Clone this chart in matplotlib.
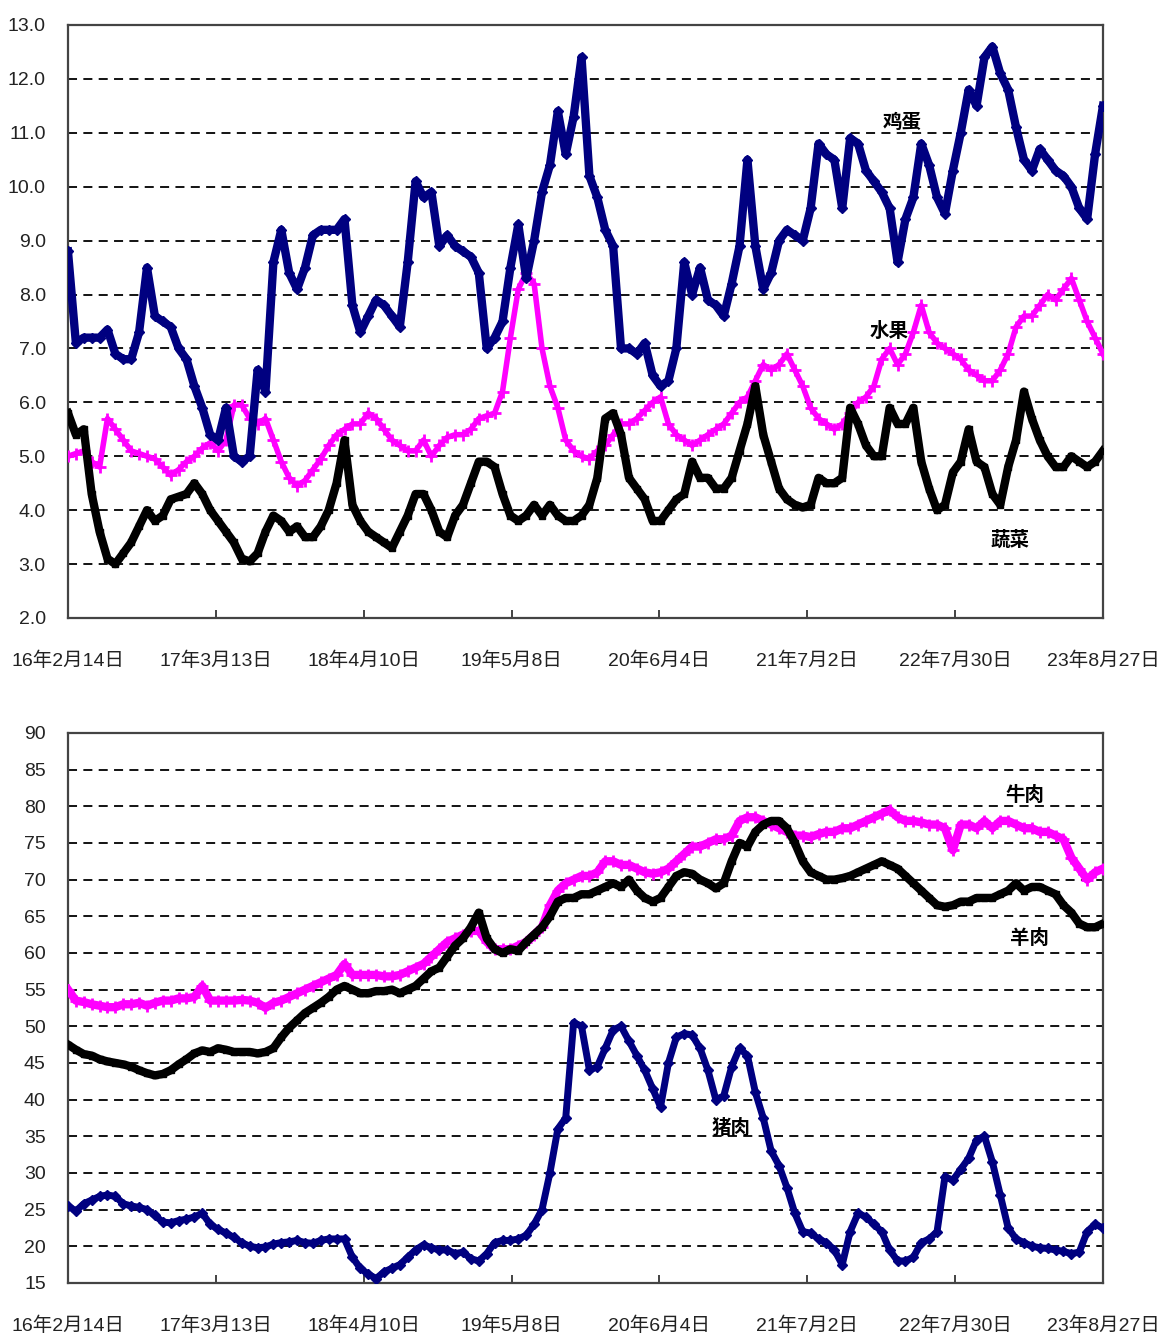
import numpy as np
import matplotlib
matplotlib.use('Agg')
import matplotlib.pyplot as plt

plt.rcParams['font.family'] = ['Liberation Sans Narrow', 'Liberation Sans', 'Noto Sans CJK SC', 'DejaVu Sans']

# one point every 21 days from 2016-02-14 to 2023-08-27
step = 21
tick_labels = ['16年2月14日', '17年3月13日', '18年4月10日', '19年5月8日',
               '20年6月4日', '21年7月2日', '22年7月30日', '23年8月27日']

egg = [8.8, 7.1, 7.2, 7.2, 7.2, 7.35, 6.9, 6.8, 6.8, 7.3, 8.5, 7.6, 7.5, 7.4, 7.0, 6.8, 6.3, 5.9, 5.4, 5.3,
       5.9, 5.0, 4.9, 5.0, 6.6, 6.2, 8.6, 9.2, 8.4, 8.1, 8.5, 9.1, 9.2, 9.2, 9.2, 9.4, 7.8, 7.3, 7.6, 7.9,
       7.8, 7.6, 7.4, 8.6, 10.1, 9.8, 9.9, 8.9, 9.1, 8.9, 8.8, 8.7, 8.4, 7.0, 7.2, 7.5, 8.5, 9.3, 8.3, 9.0,
       9.9, 10.4, 11.4, 10.6, 11.3, 12.4, 10.2, 9.8, 9.2, 8.9, 7.0, 7.0, 6.9, 7.1, 6.5, 6.3, 6.4, 7.0, 8.6, 8.0,
       8.5, 7.9, 7.8, 7.6, 8.2, 8.9, 10.5, 8.9, 8.1, 8.4, 9.0, 9.2, 9.1, 9.0, 9.6, 10.8, 10.6, 10.5, 9.6, 10.9,
       10.8, 10.3, 10.1, 9.9, 9.6, 8.6, 9.4, 9.8, 10.8, 10.4, 9.8, 9.5, 10.3, 11.0, 11.8, 11.5, 12.4, 12.6, 12.1, 11.8,
       11.1, 10.5, 10.3, 10.7, 10.5, 10.3, 10.2, 10.0, 9.6, 9.4, 10.6, 11.5]
fruit = [5.0, 5.05, 5.1, 4.9, 4.8, 5.7, 5.5, 5.3, 5.1, 5.05, 5.0, 4.95, 4.8, 4.65, 4.75, 4.9, 5.0, 5.15, 5.25, 5.1,
         5.3, 5.95, 5.95, 5.7, 5.6, 5.7, 5.3, 4.9, 4.6, 4.45, 4.55, 4.75, 4.95, 5.2, 5.4, 5.5, 5.6, 5.6, 5.8, 5.7,
         5.5, 5.3, 5.2, 5.1, 5.1, 5.3, 5.0, 5.2, 5.35, 5.4, 5.4, 5.5, 5.7, 5.75, 5.8, 6.2, 7.2, 8.1, 8.4, 8.2,
         7.0, 6.3, 5.9, 5.3, 5.1, 5.0, 4.95, 5.1, 5.2, 5.4, 5.6, 5.6, 5.7, 5.85, 6.0, 6.1, 5.6, 5.4, 5.3, 5.2,
         5.3, 5.4, 5.5, 5.6, 5.8, 6.0, 6.1, 6.4, 6.7, 6.6, 6.7, 6.9, 6.6, 6.3, 5.9, 5.7, 5.6, 5.5, 5.6, 5.8,
         6.0, 6.1, 6.3, 6.8, 7.0, 6.7, 6.9, 7.3, 7.8, 7.3, 7.1, 7.0, 6.9, 6.8, 6.6, 6.5, 6.4, 6.4, 6.6, 6.9,
         7.4, 7.6, 7.6, 7.8, 8.0, 7.9, 8.1, 8.3, 7.9, 7.5, 7.2, 6.9]
veg = [5.8, 5.4, 5.5, 4.3, 3.6, 3.1, 3.0, 3.2, 3.4, 3.7, 4.0, 3.8, 3.9, 4.2, 4.25, 4.3, 4.5, 4.3, 4.0, 3.8,
       3.6, 3.4, 3.1, 3.05, 3.2, 3.6, 3.9, 3.8, 3.6, 3.7, 3.5, 3.5, 3.7, 4.0, 4.5, 5.3, 4.1, 3.8, 3.6, 3.5,
       3.4, 3.3, 3.6, 3.9, 4.3, 4.3, 4.0, 3.6, 3.5, 3.9, 4.1, 4.5, 4.9, 4.9, 4.8, 4.3, 3.9, 3.8, 3.9, 4.1,
       3.9, 4.1, 3.9, 3.8, 3.8, 3.9, 4.1, 4.6, 5.7, 5.8, 5.4, 4.6, 4.4, 4.2, 3.8, 3.8, 4.0, 4.2, 4.3, 4.9,
       4.6, 4.6, 4.4, 4.4, 4.6, 5.1, 5.6, 6.3, 5.4, 4.9, 4.4, 4.2, 4.1, 4.05, 4.1, 4.6, 4.5, 4.5, 4.6, 5.9,
       5.6, 5.2, 5.0, 5.0, 5.9, 5.6, 5.6, 5.9, 4.9, 4.4, 4.0, 4.1, 4.7, 4.9, 5.5, 4.9, 4.8, 4.3, 4.1, 4.8,
       5.3, 6.2, 5.7, 5.3, 5.0, 4.8, 4.8, 5.0, 4.9, 4.8, 4.9, 5.1]

beef = [55.0, 53.5, 53.3, 53.0, 52.8, 52.6, 52.6, 53.0, 53.0, 53.2, 52.8, 53.2, 53.5, 53.5, 53.8, 53.8, 54.0, 55.5, 53.5, 53.5,
        53.5, 53.5, 53.6, 53.5, 53.2, 52.5, 53.2, 53.5, 54.0, 54.5, 55.0, 55.5, 56.0, 56.5, 57.0, 58.5, 57.0, 57.0, 57.0, 57.0,
        56.8, 56.8, 57.0, 57.5, 58.0, 58.5, 59.5, 60.5, 61.5, 62.0, 62.5, 63.0, 63.0, 61.5, 60.5, 60.5, 60.5, 61.0, 61.5, 62.5,
        63.5, 66.5, 68.5, 69.5, 70.0, 70.5, 70.5, 71.0, 72.5, 72.5, 72.0, 72.0, 71.5, 71.0, 70.8, 71.0, 71.5, 72.5, 73.5, 74.5,
        74.5, 75.0, 75.5, 75.5, 76.0, 78.0, 78.5, 78.5, 78.0, 77.5, 77.0, 76.5, 76.0, 76.0, 75.8, 76.2, 76.5, 76.5, 77.0, 77.0,
        77.5, 78.0, 78.5, 79.0, 79.5, 78.5, 78.0, 78.0, 77.8, 77.5, 77.5, 77.0, 74.0, 77.5, 77.5, 77.0, 78.0, 77.0, 78.0, 78.0,
        77.5, 77.0, 77.0, 76.5, 76.5, 76.0, 75.5, 73.0, 71.5, 70.0, 71.0, 71.5]
lamb = [47.5, 46.8, 46.2, 46.0, 45.5, 45.2, 45.0, 44.8, 44.5, 44.0, 43.6, 43.3, 43.5, 44.0, 44.8, 45.5, 46.3, 46.7, 46.5, 47.0,
        46.8, 46.5, 46.5, 46.5, 46.3, 46.5, 47.0, 48.5, 49.8, 50.8, 51.8, 52.5, 53.2, 54.0, 55.0, 55.5, 55.0, 54.5, 54.5, 54.8,
        54.8, 55.0, 54.5, 55.0, 55.5, 56.5, 57.5, 58.0, 59.5, 61.0, 62.0, 63.5, 65.5, 62.0, 60.5, 60.0, 60.5, 60.3, 61.5, 62.5,
        63.5, 65.0, 67.0, 67.5, 67.5, 68.0, 68.0, 68.5, 69.0, 69.5, 69.0, 70.0, 68.5, 67.5, 67.0, 67.5, 69.0, 70.5, 71.0, 70.8,
        70.0, 69.5, 68.8, 69.5, 72.5, 75.0, 74.5, 76.5, 77.5, 78.0, 78.0, 77.0, 75.0, 72.5, 71.0, 70.5, 70.0, 70.0, 70.2, 70.5,
        71.0, 71.5, 72.0, 72.5, 72.0, 71.5, 70.5, 69.5, 68.5, 67.5, 66.5, 66.3, 66.5, 67.0, 67.0, 67.5, 67.5, 67.5, 68.0, 68.5,
        69.5, 68.5, 69.0, 69.0, 68.5, 68.0, 66.5, 65.5, 64.0, 63.5, 63.5, 64.0]
pork = [25.5, 24.8, 25.8, 26.3, 26.8, 27.0, 26.8, 25.8, 25.5, 25.3, 25.0, 24.2, 23.3, 23.2, 23.5, 23.7, 24.0, 24.5, 23.0, 22.3,
        21.8, 21.2, 20.5, 20.0, 19.8, 19.9, 20.3, 20.5, 20.6, 20.8, 20.5, 20.4, 20.8, 21.0, 21.0, 21.0, 18.5, 17.0, 16.2, 15.6,
        16.5, 17.0, 17.5, 18.5, 19.5, 20.2, 19.8, 19.5, 19.5, 19.0, 19.2, 18.3, 18.0, 19.0, 20.5, 20.8, 20.8, 21.0, 21.5, 23.0,
        25.0, 30.0, 36.0, 37.5, 50.5, 50.0, 44.0, 44.5, 47.0, 49.5, 50.0, 48.0, 46.0, 44.0, 41.5, 39.0, 45.0, 48.5, 49.0, 48.8,
        47.0, 44.0, 40.0, 40.5, 44.5, 47.0, 46.0, 41.0, 37.5, 33.0, 31.0, 28.0, 24.5, 22.0, 21.8, 21.0, 20.5, 19.5, 17.5, 22.0,
        24.5, 24.0, 23.0, 22.0, 19.5, 18.0, 18.0, 18.5, 20.5, 21.0, 22.0, 29.5, 29.0, 30.5, 32.0, 34.5, 35.0, 31.5, 27.0, 22.5,
        21.0, 20.5, 20.0, 19.8, 19.7, 19.5, 19.3, 19.0, 19.2, 22.0, 23.0, 22.5]

days = np.arange(len(egg)) * step
xmax = days[-1]
tick_pos = np.linspace(0, xmax, len(tick_labels))

navy = '#000080'
mag = '#FF00FF'

fig = plt.figure(figsize=(11.62, 13.35), dpi=100)
ax1 = fig.add_axes([0.0585, 0.5371, 0.8907, 0.4442])
ax2 = fig.add_axes([0.0585, 0.0390, 0.8907, 0.4120])


def style(ax, ymin, ymax, ystep, fmt):
    ax.set_xlim(0, xmax)
    ax.set_ylim(ymin, ymax)
    yt = np.arange(ymin, ymax + ystep / 2, ystep)
    ax.set_yticks(yt)
    ax.set_yticklabels([fmt.format(v) for v in yt])
    for v in yt[1:-1]:
        ax.axhline(v, color='black', lw=1.3, ls=(0, (5, 3.5)), zorder=1)
    ax.set_xticks(tick_pos)
    ax.set_xticklabels(tick_labels)
    ax.tick_params(axis='x', direction='in', length=6, width=1.2, pad=24,
                   labelsize=14, colors='#222222')
    ax.tick_params(axis='y', length=0, pad=16, labelsize=14, colors='#222222')
    for s in ax.spines.values():
        s.set_color('#444444')
        s.set_linewidth(1.6)


#   top: eggs, fruit, vegetables
style(ax1, 2.0, 13.0, 1.0, '{:.1f}')
ax1.plot(days, fruit, color=mag, lw=4, marker='+', ms=8, mew=2, zorder=3)
ax1.plot(days, egg, color=navy, lw=6, marker='D', ms=5, zorder=4)
ax1.plot(days, veg, color='black', lw=6, marker='s', ms=5, zorder=5)
ax1.text(2217, 11.2, '鸡蛋', fontsize=14, fontweight='bold', ha='center', va='center',
         family=['Noto Sans CJK SC'], zorder=6)
ax1.text(2182, 7.32, '水果', fontsize=14, fontweight='bold', ha='center', va='center',
         family=['Noto Sans CJK SC'], zorder=6)
ax1.text(2504, 3.45, '蔬菜', fontsize=14, fontweight='bold', ha='center', va='center',
         family=['Noto Sans CJK SC'], zorder=6)

#   bottom: beef, lamb, pork
style(ax2, 15, 90, 5, '{:.0f}')
ax2.plot(days, beef, color=mag, lw=6, marker='+', ms=8, mew=2, zorder=3)
ax2.plot(days, lamb, color='black', lw=6, marker='s', ms=5, zorder=4)
ax2.plot(days, pork, color=navy, lw=5, marker='D', ms=5, zorder=4)
ax2.text(2544, 81.5, '牛肉', fontsize=14, fontweight='bold', ha='center', va='center',
         family=['Noto Sans CJK SC'], zorder=6)
ax2.text(2557, 62.0, '羊肉', fontsize=14, fontweight='bold', ha='center', va='center',
         family=['Noto Sans CJK SC'], zorder=6)
ax2.text(1762, 36.1, '猪肉', fontsize=14, fontweight='bold', ha='center', va='center',
         family=['Noto Sans CJK SC'], zorder=6)

plt.savefig('out.png', dpi=100)
